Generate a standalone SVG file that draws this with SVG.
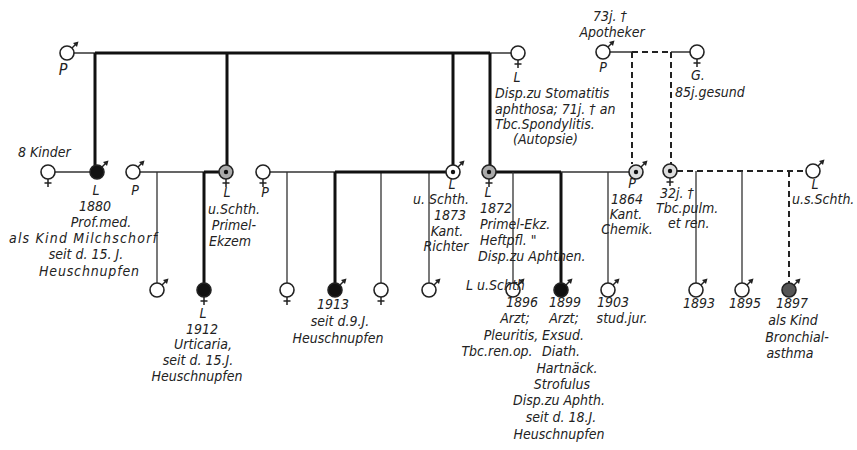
<svg xmlns="http://www.w3.org/2000/svg" width="857" height="450" viewBox="0 0 857 450">
<style>
.bg{fill:#fff}
.sym{stroke:#222;stroke-width:1.6}
.thin{stroke:#333;stroke-width:1.3;fill:none}
.thick{stroke:#111;stroke-width:3;fill:none}
.dash{stroke:#222;stroke-width:2;fill:none;stroke-dasharray:6,4}
text{font-family:"DejaVu Sans Condensed","DejaVu Sans",sans-serif;font-style:oblique;font-size:14px;fill:#222}
.c{text-anchor:middle}
.big{font-size:16px}
</style>
<defs>
<g id="male"><circle r="7" class="sym"/><path d="M5 -5 L9 -9" stroke="#222" stroke-width="1.5"/><path d="M11.5 -11.5 L6 -10 L10 -6 Z" fill="#222" stroke="none"/></g>
<g id="female"><circle r="7" class="sym"/><path d="M0 7 V15 M-3.5 11 H3.5" stroke="#222" stroke-width="1.5" fill="none"/></g>
<circle id="dot" r="2.2" fill="#111"/>
</defs>
<rect class="bg" width="857" height="450"/>
<g id="connectors">
<path class="thin" d="M74 53 H511"/>
<path class="thick" d="M95 53 H490 M95 53 V165 M227 53 V165 M453 53 V165 M490 53 V165"/>
<path class="thin" d="M610 52 H632 M671 52 H690"/>
<path class="dash" d="M632 52 H671 M632 52 V164 M671 52 V164"/>
<path class="thin" d="M55 172 H90"/>
<path class="thin" d="M140 172 H204 M157 172 V283"/>
<path class="thick" d="M204 172 H219 M204 172 V283"/>
<path class="thin" d="M270 172 H335 M287 172 V283 M381 172 V283 M429 172 V283"/>
<path class="thick" d="M335 172 H446 M335 172 V283"/>
<path class="thick" d="M496 172 H561 M561 172 V283"/>
<path class="thin" d="M561 172 H629 M513 172 V283 M608 172 V283"/>
<path class="dash" d="M677 171 H806 M789 171 V283"/>
<path class="thin" d="M696 171 V283 M742 171 V283"/>
</g>
<g id="n-top-p"><use href="#male" x="67" y="53" fill="#fff"/><text class="c big" x="63" y="75">P</text></g>
<g id="n-top-l"><use href="#female" x="518" y="53" fill="#fff"/><text class="c" x="517" y="82">L</text>
<text x="495" y="98">Disp.zu Stomatitis</text><text x="495" y="114">aphthosa; 71j. † an</text><text x="495" y="129">Tbc.Spondylitis.</text><text x="513" y="144">(Autopsie)</text></g>
<g id="n-apotheker"><use href="#male" x="603" y="52" fill="#fff"/><text class="c" x="610" y="21">73j. †</text><text class="c" x="612" y="37">Apotheker</text><text class="c" x="603" y="72">P</text></g>
<g id="n-g"><use href="#female" x="697" y="52" fill="#fff"/><text class="c" x="698" y="80">G.</text><text x="675" y="97">85j.gesund</text></g>
<g id="n-kinder"><use href="#female" x="48" y="172" fill="#fff"/><text x="18" y="157">8 Kinder</text></g>
<g id="n-1880"><use href="#male" x="97" y="172" fill="#111"/><text class="c" x="96" y="195">L</text><text class="c" x="95" y="211">1880</text><text class="c" x="101" y="227">Prof.med.</text><text class="c" x="83" y="243" textLength="148">als Kind Milchschorf</text><text class="c" x="86" y="259">seit d. 15. J.</text><text class="c" x="89" y="276" textLength="100">Heuschnupfen</text></g>
<g id="n-p133"><use href="#male" x="133" y="172" fill="#fff"/><text class="c" x="135" y="195">P</text></g>
<g id="n-226"><use href="#female" x="226" y="172" fill="#aaa"/><use href="#dot" x="226" y="172"/><text class="c" x="227" y="197">L</text><text class="c" x="234" y="214">u.Schth.</text><text class="c" x="234" y="230">Primel-</text><text class="c" x="230" y="246">Ekzem</text></g>
<g id="n-p263"><use href="#female" x="263" y="172" fill="#fff"/><text class="c" x="265" y="197">P</text></g>
<g id="n-1873"><use href="#male" x="453" y="172" fill="#fff"/><use href="#dot" x="453" y="172"/><text class="c" x="452" y="189">L</text><text class="c" x="441" y="204">u. Schth.</text><text class="c" x="450" y="220">1873</text><text class="c" x="447" y="236">Kant.</text><text class="c" x="446" y="251">Richter</text></g>
<g id="n-1872"><use href="#female" x="489" y="172" fill="#aaa"/><use href="#dot" x="489" y="172"/><text class="c" x="488" y="197">L</text><text x="480" y="213">1872</text><text x="480" y="229">Primel-Ekz.</text><text x="480" y="245">Heftpfl.  "</text><text x="478" y="261">Disp.zu Aphthen.</text></g>
<g id="n-1864"><use href="#male" x="636" y="172" fill="#ddd"/><use href="#dot" x="636" y="172"/><text class="c" x="632" y="188">P</text><text class="c" x="627" y="204">1864</text><text class="c" x="626" y="219">Kant.</text><text class="c" x="627" y="234">Chemik.</text></g>
<g id="n-32j"><use href="#female" x="670" y="171" fill="#ddd"/><use href="#dot" x="670" y="171"/><text x="660" y="198">32j. †</text><text x="656" y="213">Tbc.pulm.</text><text x="668" y="228">et ren.</text></g>
<g id="n-l813"><use href="#male" x="813" y="171" fill="#fff"/><text class="c" x="815" y="189">L</text><text x="792" y="204">u.s.Schth.</text></g>
<g id="n-157"><use href="#male" x="157" y="290" fill="#fff"/></g>
<g id="n-1912"><use href="#female" x="204" y="290" fill="#111"/><text class="c" x="203" y="318">L</text><text class="c" x="202" y="334">1912</text><text class="c" x="203" y="349">Urticaria,</text><text class="c" x="198" y="365">seit d. 15.J.</text><text class="c" x="197" y="381">Heuschnupfen</text></g>
<g id="n-287"><use href="#female" x="287" y="290" fill="#fff"/></g>
<g id="n-1913"><use href="#male" x="335" y="290" fill="#111"/><text class="c" x="333" y="309">1913</text><text class="c" x="340" y="326">seit d.9.J.</text><text class="c" x="338" y="343">Heuschnupfen</text></g>
<g id="n-381"><use href="#female" x="381" y="290" fill="#fff"/></g>
<g id="n-429"><use href="#male" x="429" y="290" fill="#fff"/></g>
<g id="n-1896"><use href="#male" x="513" y="290" fill="#fff"/><text x="466" y="290">L u.Schth</text><text class="c" x="522" y="307">1896</text><text class="c" x="515" y="323">Arzt;</text><text class="c" x="511" y="340">Pleuritis,</text><text class="c" x="497" y="356">Tbc.ren.op.</text></g>
<g id="n-1899"><use href="#male" x="561" y="290" fill="#111"/><text class="c" x="565" y="307">1899</text><text class="c" x="564" y="323">Arzt;</text><text class="c" x="563" y="340">Exsud.</text><text class="c" x="561" y="356">Diath.</text><text class="c" x="567" y="373">Hartnäck.</text><text class="c" x="562" y="389">Strofulus</text><text class="c" x="559" y="405">Disp.zu Aphth.</text><text class="c" x="561" y="422">seit d. 18.J.</text><text class="c" x="559" y="439">Heuschnupfen</text></g>
<g id="n-1903"><use href="#male" x="608" y="290" fill="#fff"/><text class="c" x="613" y="307">1903</text><text class="c" x="622" y="323">stud.jur.</text></g>
<g id="n-1893"><use href="#male" x="696" y="290" fill="#fff"/><text class="c" x="699" y="308">1893</text></g>
<g id="n-1895"><use href="#male" x="742" y="290" fill="#fff"/><text class="c" x="745" y="308">1895</text></g>
<g id="n-1897"><use href="#male" x="789" y="290" fill="#555"/><text class="c" x="792" y="308">1897</text><text class="c" x="793" y="325">als Kind</text><text class="c" x="797" y="342">Bronchial-</text><text class="c" x="790" y="358">asthma</text></g>
</svg>
